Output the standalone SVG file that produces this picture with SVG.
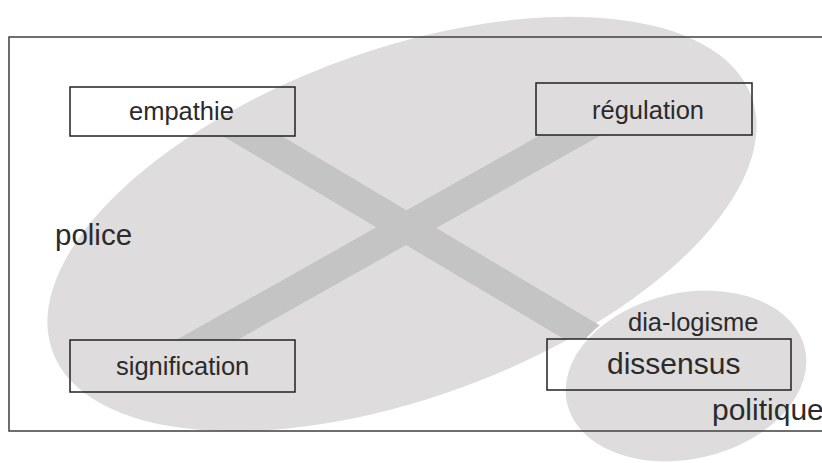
<svg xmlns="http://www.w3.org/2000/svg" width="822" height="463" viewBox="0 0 822 463">
<style>
.region{fill:#dedcdd}
.band{fill:#c4c4c4}
.box{fill:none;stroke:#222;stroke-width:1.5}
.frame{fill:none;stroke:#4a4a4a;stroke-width:1.6}
.t{font-family:"Liberation Sans",Arial,sans-serif;fill:#2b2b2b}
</style>
<rect width="822" height="463" fill="#ffffff"/>
<g id="police-region">
<ellipse class="region" cx="402" cy="224" rx="372" ry="174" transform="rotate(-20 402 224)"/>
</g>
<g id="connectors">
<polygon class="band" points="222.8,136 281.7,136 622.8,339 564,339"/>
<polygon class="band" points="176.2,340 237.3,340 601.4,135 540.3,135"/>
</g>
<g id="politique-region">
<ellipse class="region" cx="686" cy="376" rx="123" ry="84" transform="rotate(-13 686 376)" stroke="#ffffff" stroke-width="2"/>
</g>
<rect class="frame" x="9" y="37" width="830" height="394"/>
<g id="empathie">
<rect class="box" x="70" y="87" width="225" height="49"/>
<text class="t" x="129" y="120" font-size="25.5">empathie</text>
</g>
<g id="regulation">
<rect class="box" x="536" y="83" width="216" height="52"/>
<text class="t" x="592" y="119" font-size="25.5">régulation</text>
</g>
<g id="signification">
<rect class="box" x="70" y="340" width="225" height="52"/>
<text class="t" x="116" y="375" font-size="25.5">signification</text>
</g>
<g id="dissensus">
<rect class="box" x="547" y="339" width="244" height="51"/>
<text class="t" x="607" y="374" font-size="30">dissensus</text>
</g>
<text class="t" x="628" y="331" font-size="25.5">dia-logisme</text>
<text class="t" x="712" y="420" font-size="30">politique</text>
<text class="t" x="55" y="245" font-size="29.5">police</text>
</svg>
